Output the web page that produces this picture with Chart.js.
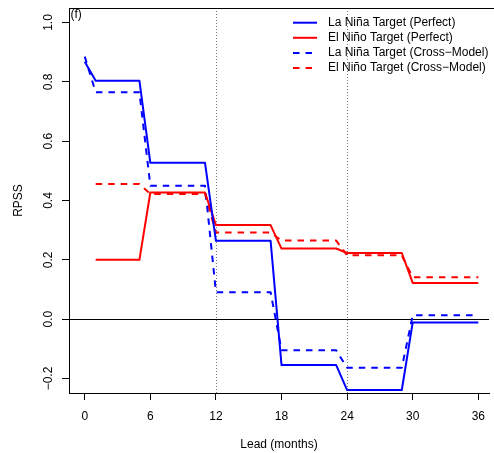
<!DOCTYPE html>
<html>
<head>
<meta charset="utf-8">
<script src="https://cdn.jsdelivr.net/npm/chart.js@4/dist/chart.umd.min.js"></script>
<style>
  html, body { margin: 0; padding: 0; background: #fff; overflow: hidden; }
  canvas { display: block; }
</style>
</head>
<body>
<canvas id="rpssChart" width="494" height="453"></canvas>
<script>
// Lead (months)
const leads = [0, 1, 2, 3, 4, 5, 6, 7, 8, 9, 10, 11, 12, 13, 14, 15, 16, 17, 18,
               19, 20, 21, 22, 23, 24, 25, 26, 27, 28, 29, 30, 31, 32, 33, 34, 35, 36];

// RPSS per lead
const laNinaPerfect = [0.868, 0.804, 0.804, 0.804, 0.804, 0.804,
  0.527, 0.527, 0.527, 0.527, 0.527, 0.527,
  0.264, 0.264, 0.264, 0.264, 0.264, 0.264,
  -0.155, -0.155, -0.155, -0.155, -0.155, -0.155,
  -0.239, -0.239, -0.239, -0.239, -0.239, -0.239,
  -0.011, -0.011, -0.011, -0.011, -0.011, -0.011, -0.011];

const elNinoPerfect = [null, 0.200, 0.200, 0.200, 0.200, 0.200,
  0.427, 0.427, 0.427, 0.427, 0.427, 0.427,
  0.317, 0.317, 0.317, 0.317, 0.317, 0.317,
  0.238, 0.238, 0.238, 0.238, 0.238, 0.238,
  0.223, 0.223, 0.223, 0.223, 0.223, 0.223,
  0.122, 0.122, 0.122, 0.122, 0.122, 0.122, 0.122];

const laNinaCross = [0.885, 0.765, 0.765, 0.765, 0.765, 0.765,
  0.450, 0.450, 0.450, 0.450, 0.450, 0.450,
  0.091, 0.091, 0.091, 0.091, 0.091, 0.091,
  -0.105, -0.105, -0.105, -0.105, -0.105, -0.105,
  -0.164, -0.164, -0.164, -0.164, -0.164, -0.164,
  0.013, 0.013, 0.013, 0.013, 0.013, 0.013, 0.013];

const elNinoCross = [null, 0.456, 0.456, 0.456, 0.456, 0.456,
  0.422, 0.422, 0.422, 0.422, 0.422, 0.422,
  0.292, 0.292, 0.292, 0.292, 0.292, 0.292,
  0.265, 0.265, 0.265, 0.265, 0.265, 0.265,
  0.215, 0.215, 0.215, 0.215, 0.215, 0.215,
  0.141, 0.141, 0.141, 0.141, 0.141, 0.141, 0.141];

const seriesLabels = ['La Niña Target (Perfect)', 'El Niño Target (Perfect)',
                      'La Niña Target (Cross\u2212Model)', 'El Niño Target (Cross\u2212Model)'];

// axis ticks and guides
const xTicks = [0, 6, 12, 18, 24, 30, 36];
const yTicks = [-0.2, 0, 0.2, 0.4, 0.6, 0.8, 1.0];
const guideLeads = [12, 24];
const panelTag = '(f)';

const FONT = '"Liberation Sans", Arial, Helvetica, sans-serif';
Chart.defaults.font.family = FONT;
Chart.defaults.font.size = 12;
Chart.defaults.color = '#000';

const toPoints = vals => vals.map((v, i) => ({ x: leads[i], y: v }));

function lineSet(label, vals, color, dashed) {
  return {
    label,
    data: toPoints(vals),
    borderColor: color,
    borderWidth: 2,
    borderDash: dashed ? [6.5, 6] : [],
    borderJoinStyle: 'round',
    pointRadius: 0,
    tension: 0,
    spanGaps: false
  };
}

// ejes extra: guias, linea cero, marco, etiquetas Y, leyenda
const frame = {
  id: 'frame',
  beforeDatasetsDraw(chart) {
    const { ctx, chartArea: a, scales: { x, y } } = chart;
    ctx.save();
    ctx.lineWidth = 1;
    ctx.strokeStyle = '#777';
    ctx.setLineDash([1, 2]);
    guideLeads.forEach(v => {
      const px = Math.round(x.getPixelForValue(v)) + 0.5;
      ctx.beginPath();
      ctx.moveTo(px, a.top);
      ctx.lineTo(px, a.bottom);
      ctx.stroke();
    });
    ctx.setLineDash([]);
    ctx.strokeStyle = '#000';
    const py = Math.round(y.getPixelForValue(0)) + 0.5;
    ctx.beginPath();
    ctx.moveTo(a.left, py);
    ctx.lineTo(a.right, py);
    ctx.stroke();
    ctx.restore();
  },
  afterDraw(chart) {
    const { ctx, chartArea: a, scales: { y } } = chart;
    ctx.save();
    // top edge of the box
    ctx.strokeStyle = '#000';
    ctx.lineWidth = 1;
    ctx.beginPath();
    ctx.moveTo(a.left, Math.round(a.top) + 0.5);
    ctx.lineTo(chart.width, Math.round(a.top) + 0.5);
    ctx.stroke();

    // rotated y tick labels
    ctx.font = '12px ' + FONT;
    ctx.fillStyle = '#000';
    ctx.textAlign = 'center';
    ctx.textBaseline = 'alphabetic';
    yTicks.forEach(v => {
      const py = y.getPixelForValue(v);
      ctx.save();
      ctx.translate(51.8, py);
      ctx.rotate(-Math.PI / 2);
      ctx.fillText(v.toFixed(1).replace('-', '\u2212'), 0, 0);
      ctx.restore();
    });

    // panel letter
    ctx.textAlign = 'left';
    ctx.fillText(panelTag, a.left + 1.5, a.top + 9.5);

    // legend
    const x0 = 293, x1 = 317, tx = 328;
    ctx.textBaseline = 'middle';
    chart.data.datasets.forEach((ds, i) => {
      const ly = 22.7 + i * 15.1;
      ctx.strokeStyle = ds.borderColor;
      ctx.lineWidth = ds.borderWidth;
      ctx.setLineDash(ds.borderDash);
      ctx.beginPath();
      ctx.moveTo(x0, ly);
      ctx.lineTo(x1, ly);
      ctx.stroke();
      ctx.setLineDash([]);
      ctx.fillText(ds.label, tx, ly);
    });
    ctx.restore();
  }
};

new Chart(document.getElementById('rpssChart'), {
  type: 'line',
  data: {
    datasets: [
      lineSet(seriesLabels[0], laNinaPerfect, '#0000ff', false),
      lineSet(seriesLabels[1], elNinoPerfect, '#ff0000', false),
      lineSet(seriesLabels[2], laNinaCross, '#0000ff', true),
      lineSet(seriesLabels[3], elNinoCross, '#ff0000', true)
    ]
  },
  options: {
    responsive: false,
    animation: false,
    devicePixelRatio: 1,
    layout: { padding: { top: 8, right: 0, bottom: 0, left: 0 } },
    plugins: { legend: { display: false }, tooltip: { enabled: false } },
    scales: {
      x: {
        type: 'linear',
        min: -1.44,
        max: 36.98,
        afterBuildTicks: s => { s.ticks = xTicks.map(v => ({ value: v })); },
        afterFit: s => { s.height = 60; },
        grid: { drawOnChartArea: false, drawTicks: true, tickLength: 7, color: '#000' },
        border: { display: true, color: '#000', width: 1 },
        ticks: { padding: 9, maxRotation: 0, autoSkip: false, color: '#000' },
        title: { display: true, text: 'Lead (months)', padding: { top: 0, bottom: 1 }, color: '#000' }
      },
      y: {
        type: 'linear',
        min: -0.249,
        max: 1.049,
        afterBuildTicks: s => { s.ticks = yTicks.map(v => ({ value: v })); },
        afterFit: s => { s.width = 69; },
        grid: { drawOnChartArea: false, drawTicks: true, tickLength: 7, color: '#000' },
        border: { display: true, color: '#000', width: 1 },
        ticks: { display: false },
        title: { display: true, text: 'RPSS', padding: { top: 11, bottom: 0 }, color: '#000' }
      }
    }
  },
  plugins: [frame]
});
</script>
</body>
</html>
